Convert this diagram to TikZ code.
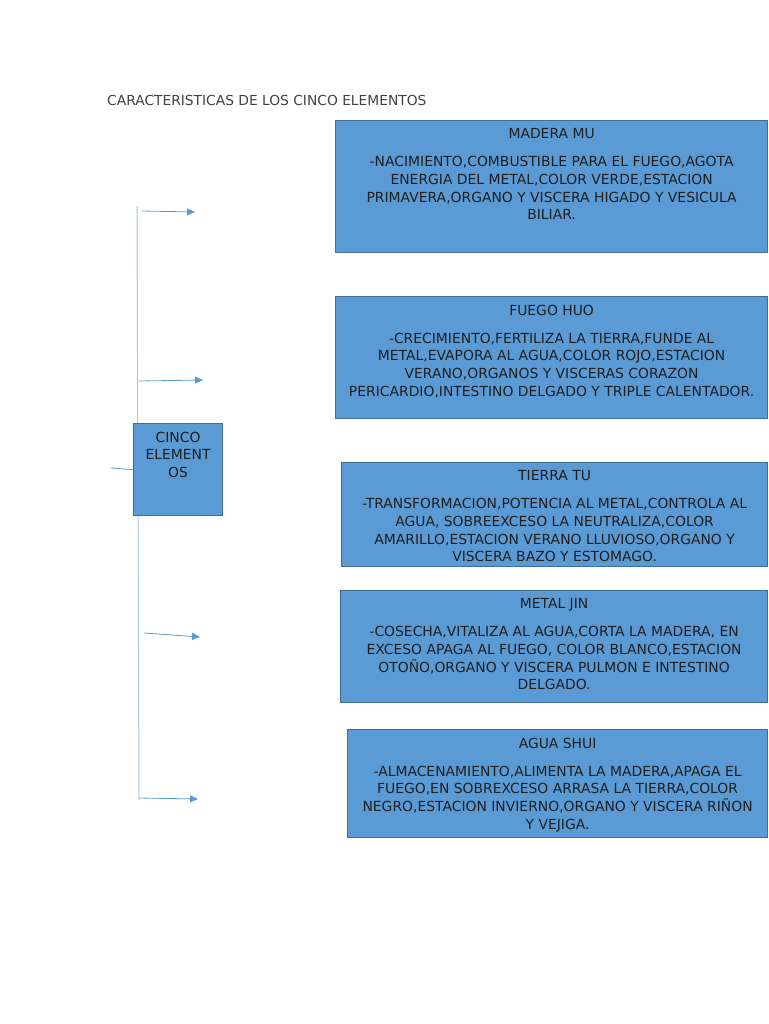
\documentclass[tikz,border=0pt]{standalone}
\usepackage{fontspec}
\setmainfont{DejaVu Sans}
\usetikzlibrary{arrows.meta}
\definecolor{boxfill}{HTML}{5B9BD5}
\definecolor{boxline}{HTML}{3F6E98}
\definecolor{txt}{HTML}{1F1F1F}
\definecolor{conn}{HTML}{5B9BD5}
\definecolor{spine}{HTML}{A9C6EA}
\begin{document}
\begin{tikzpicture}[x=1pt,y=-1pt,
  elbox/.style={draw=boxline, fill=boxfill, line width=1.2pt, rectangle, anchor=north west, inner sep=0pt},
  eltext/.style={anchor=north, inner sep=0pt, align=center, font=\fontsize{13.9}{17.7}\selectfont, text=txt},
  branch/.style={draw=conn, line width=0.8pt, -{Triangle[length=8pt,width=7pt]}},
  spineline/.style={draw=spine, line width=1pt},
  titletext/.style={anchor=west, inner sep=0pt, font=\fontsize{13.8}{16}\selectfont, text=txt!85!white}]
\useasboundingbox (0,0) rectangle (768,1024);

\node[titletext] (title) at (107,100) {CARACTERISTICAS DE LOS CINCO ELEMENTOS};

% spine
\coordinate (stop) at (137,206);
\coordinate (sbot) at (139,800);
\draw[spineline] (stop) -- (sbot);

% branches
\coordinate (b1s) at (142,211); \coordinate (b1e) at (195,212);
\coordinate (b2s) at (139,381); \coordinate (b2e) at (203,380);
\coordinate (b3s) at (144,633); \coordinate (b3e) at (200,637);
\coordinate (b4s) at (139,798); \coordinate (b4e) at (198,799);
\draw[branch] (b1s) -- (b1e);
\draw[branch] (b2s) -- (b2e);
\draw[branch] (b3s) -- (b3e);
\draw[branch] (b4s) -- (b4e);

% centre box
\node[elbox, minimum width=89pt, minimum height=92pt] (cinco) at (133,423) {};
\node[eltext] (cincotext) at ([yshift=-8.5pt]cinco.north) {CINCO\\ELEMENT\\OS};
\coordinate (stub) at (111,468);
\draw[draw=conn, line width=0.8pt] (stub) -- (cinco.west);

% element boxes
\node[elbox, minimum width=432pt, minimum height=132pt] (madera) at (335,120) {};
\node[eltext] (maderatext) at ([yshift=-8.5pt]madera.north) {MADERA MU\\[10.3pt]
-NACIMIENTO,COMBUSTIBLE PARA EL FUEGO,AGOTA\\
ENERGIA DEL METAL,COLOR VERDE,ESTACION\\
PRIMAVERA,ORGANO Y VISCERA HIGADO Y VESICULA\\
BILIAR.};

\node[elbox, minimum width=432pt, minimum height=122pt] (fuego) at (335,296) {};
\node[eltext] (fuegotext) at ([yshift=-8.5pt]fuego.north) {FUEGO HUO\\[10.3pt]
-CRECIMIENTO,FERTILIZA LA TIERRA,FUNDE AL\\
METAL,EVAPORA AL AGUA,COLOR ROJO,ESTACION\\
VERANO,ORGANOS Y VISCERAS CORAZON\\
PERICARDIO,INTESTINO DELGADO Y TRIPLE CALENTADOR.};

\node[elbox, minimum width=426pt, minimum height=104pt] (tierra) at (341,462) {};
\node[eltext] (tierratext) at ([yshift=-8.5pt]tierra.north) {TIERRA TU\\[10.3pt]
-TRANSFORMACION,POTENCIA AL METAL,CONTROLA AL\\
AGUA, SOBREEXCESO LA NEUTRALIZA,COLOR\\
AMARILLO,ESTACION VERANO LLUVIOSO,ORGANO Y\\
VISCERA BAZO Y ESTOMAGO.};

\node[elbox, minimum width=427pt, minimum height=112pt] (metal) at (340,590) {};
\node[eltext] (metaltext) at ([yshift=-8.5pt]metal.north) {METAL JIN\\[10.3pt]
-COSECHA,VITALIZA AL AGUA,CORTA LA MADERA, EN\\
EXCESO APAGA AL FUEGO, COLOR BLANCO,ESTACION\\
OTOÑO,ORGANO Y VISCERA PULMON E INTESTINO\\
DELGADO.};

\node[elbox, minimum width=420pt, minimum height=108pt] (agua) at (347,729) {};
\node[eltext] (aguatext) at ([yshift=-8.5pt]agua.north) {AGUA SHUI\\[10.3pt]
-ALMACENAMIENTO,ALIMENTA LA MADERA,APAGA EL\\
FUEGO,EN SOBREXCESO ARRASA LA TIERRA,COLOR\\
NEGRO,ESTACION INVIERNO,ORGANO Y VISCERA RIÑON\\
Y VEJIGA.};
\end{tikzpicture}
\end{document}
